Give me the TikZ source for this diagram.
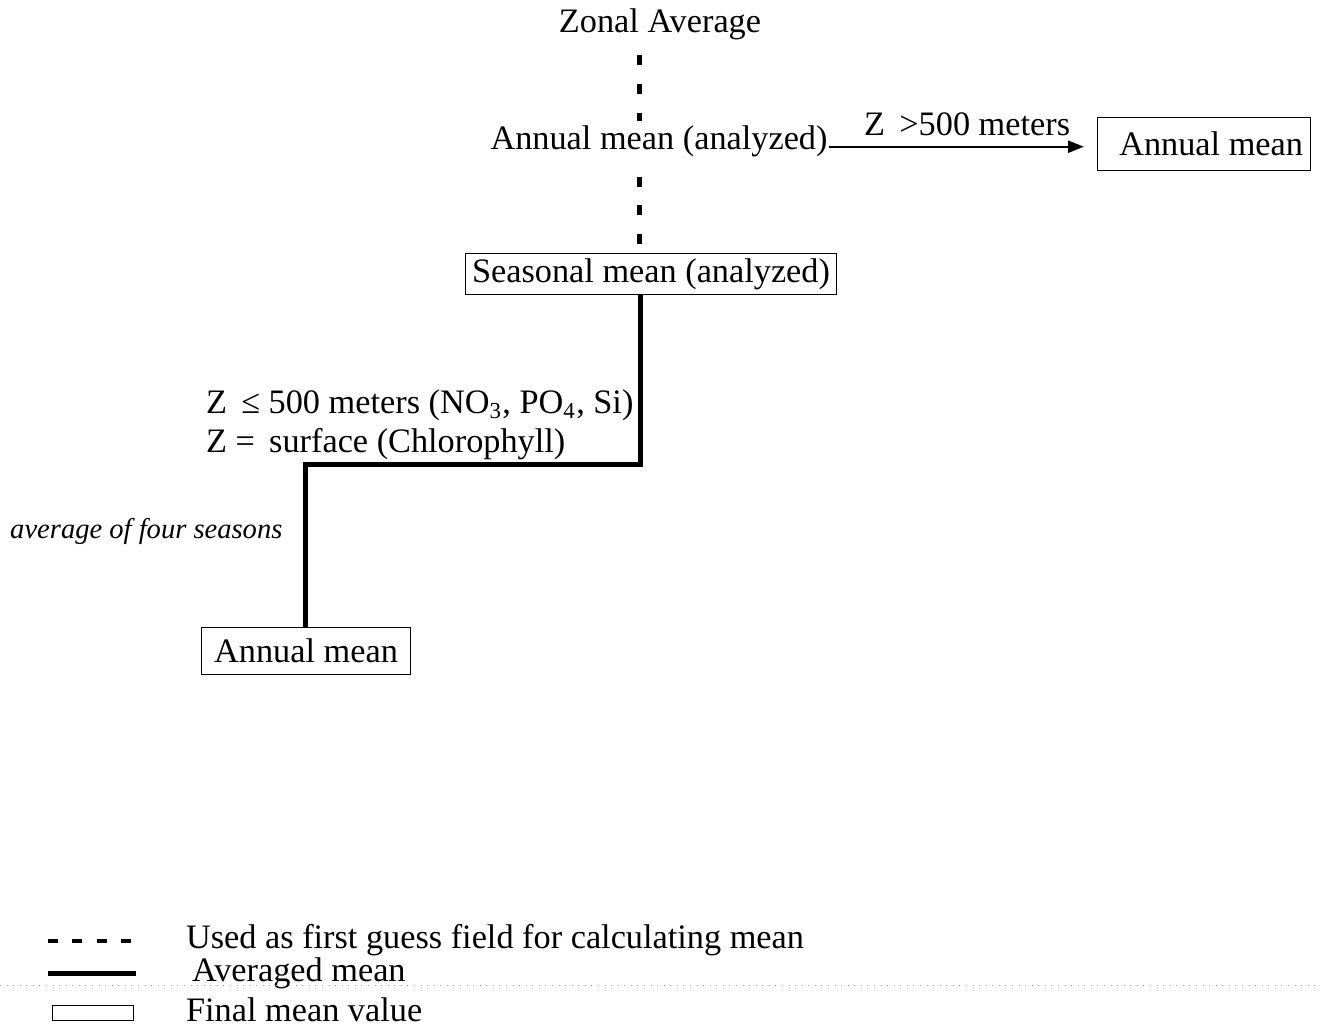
\documentclass[tikz,border=0pt]{standalone}
\usepackage{fontspec}
\setmainfont{Liberation Serif}
\usetikzlibrary{arrows.meta,calc,positioning}

\begin{document}
\begin{tikzpicture}[x=0.35pt,y=-0.35pt,
    every node/.style={font=\fontsize{12}{13.7}\selectfont},
    guess/.style={line width=1.75pt, dash pattern=on 3.5pt off 6.5pt},
    avg/.style={line width=1.75pt},
    final/.style={draw, line width=0.5pt, inner sep=0pt}]
    \useasboundingbox (0,0) rectangle (1320,1029);
    % Caminho principal
    \node at (660,24) (zonal) {Zonal Average};
    \node at (659,141) (annan) {Annual mean (analyzed)};
    \node at (651,274) (seas) [final, minimum width=129.9pt, minimum height=14.35pt] {Seasonal mean (analyzed)};
    \node at (1204,144) (annhi) [final, minimum width=74.6pt, minimum height=18.5pt] {\hspace{5pt}Annual mean};
    \node at (306,651) (annlo) [final, minimum width=73.2pt, minimum height=16.4pt] {Annual mean};
    \coordinate (trunk) at (639,0);
    \coordinate (bend) at (305,464);
    \draw[guess, shorten <=2pt, shorten >=-2pt] (zonal.south -| trunk) -- (annan.north -| trunk);
    \draw[guess, shorten <=3.5pt, shorten >=2pt] (annan.south -| trunk) -- (seas.north -| trunk);
    \draw[-{Triangle[length=5.5pt,width=4.2pt]}, line width=0.7pt, shorten <=-3pt, shorten >=4.5pt]
        ([yshift=-2pt]annan.east) -- ([yshift=-2pt]annan.east -| annhi.west)
        node[above, pos=0.5] (zgt) {Z \,>500 meters};
    \draw[avg] ([xshift=0.35pt]seas.south -| trunk) |- (bend) -- (bend |- annlo.north);
    % Rotulos
    \node at (196,425) (zle) [anchor=west, align=left] {Z \,≤ 500 meters (NO\textsubscript{3}, PO\textsubscript{4}, Si)\\Z =\, surface (Chlorophyll)};
    \node at (283,531) (four) [anchor=east, inner sep=0pt, font=\fontsize{10}{12}\selectfont\itshape] {average of four seasons};
    % Legenda
    \coordinate (lg1) at (48,941);
    \coordinate (lg2) at (48,973);
    \node at (176,940) (leg1) [anchor=west] {Used as first guess field for calculating mean};
    \node at (182,973) (leg2) [anchor=west] {Averaged mean};
    \node at (92.5,1012.5) (legbox) [final, line width=0.3pt, minimum width=28.3pt, minimum height=5.2pt] {};
    \node at (176,1010) (leg3) [anchor=west] {Final mean value};
    \draw[line width=1.6pt, dash pattern=on 3.5pt off 5pt] (lg1) -- ++(88,0);
    \draw[avg] (lg2) -- ++(88,0);
    \draw[gray!70, line width=0.3pt, dotted] (0,985) -- (1320,985);
\end{tikzpicture}
\end{document}
